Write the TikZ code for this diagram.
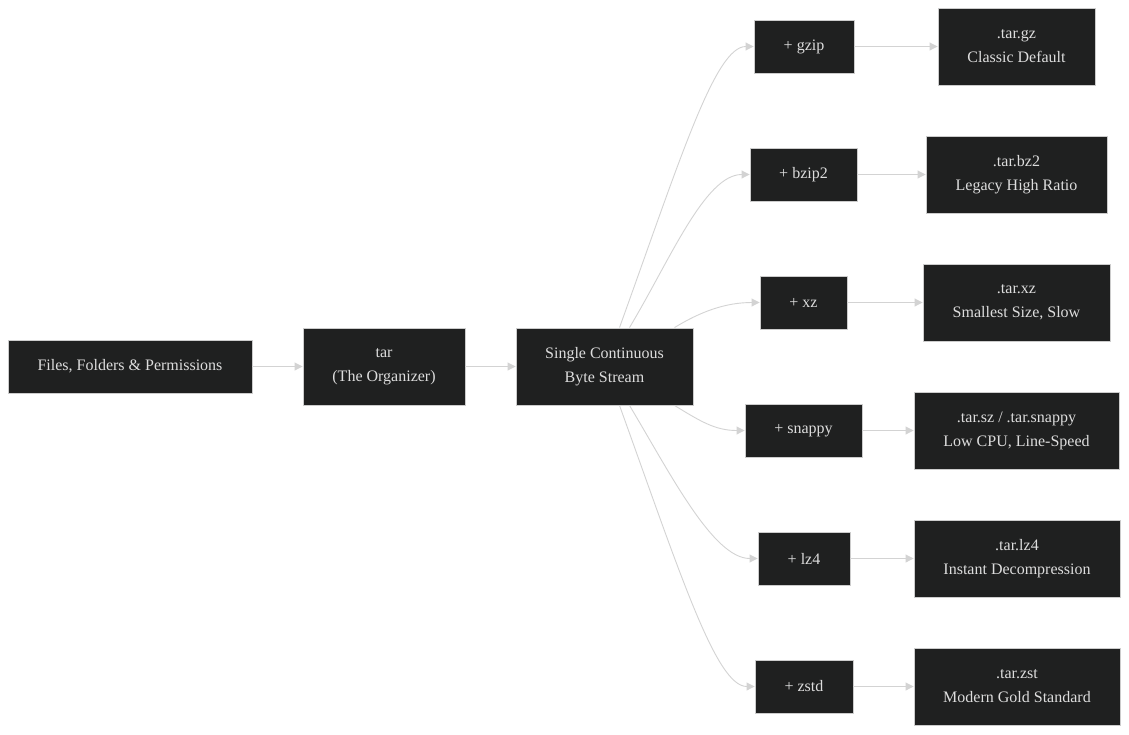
\documentclass[tikz,border=0pt]{standalone}
\usepackage{fontspec}
\setmainfont{Liberation Serif}
\usetikzlibrary{arrows.meta}
\definecolor{boxfill}{HTML}{1F2020}
\definecolor{boxline}{HTML}{CCCCCC}
\definecolor{boxtext}{HTML}{DDDDDD}
\definecolor{linkgray}{HTML}{D3D3D3}

\begin{document}
\begin{tikzpicture}[x=1pt,y=-1pt]
\tikzstyle{every node}+=[inner sep=0pt]
\tikzstyle{box}=[draw=boxline, fill=boxfill, text=boxtext, align=center, line width=0.9pt, font=\fontsize{16}{24}\selectfont]
\tikzstyle{link}=[draw=linkgray, line width=0.9pt, -{Triangle[length=8pt,width=8pt]}]
\useasboundingbox (0,0) rectangle (1129,734);
% left chain
\node [box, minimum width=244, minimum height=53] (files) at (130,366.5) {Files, Folders \& Permissions};
\node [box, minimum width=162, minimum height=77] (tar) at (384,366.5) {tar\\(The Organizer)};
\node [box, minimum width=177, minimum height=77] (stream) at (604.5,366.5) {Single Continuous\\Byte Stream};
% compressors
\node [box, minimum width=100, minimum height=53] (gzip) at (804,46.5) {+ gzip};
\node [box, minimum width=107, minimum height=53] (bzip) at (803.5,174.5) {+ bzip2};
\node [box, minimum width=87, minimum height=53] (xz) at (803.5,302.5) {+ xz};
\node [box, minimum width=117, minimum height=53] (snappy) at (803.5,430.5) {+ snappy};
\node [box, minimum width=92, minimum height=53] (lzf) at (804,558.5) {+ lz4};
\node [box, minimum width=98, minimum height=53] (zstd) at (804,686.5) {+ zstd};
% results
\node [box, minimum width=157, minimum height=77] (targz) at (1016.5,46.5) {.tar.gz\\Classic Default};
\node [box, minimum width=181, minimum height=77] (tarbz) at (1016.5,174.5) {.tar.bz2\\Legacy High Ratio};
\node [box, minimum width=187, minimum height=77] (tarxz) at (1016.5,302.5) {.tar.xz\\Smallest Size, Slow};
\node [box, minimum width=205, minimum height=77] (tarsz) at (1016.5,430.5) {.tar.sz / .tar.snappy\\Low CPU, Line-Speed};
\node [box, minimum width=206, minimum height=77] (tarlz) at (1017,558.5) {.tar.lz4\\Instant Decompression};
\node [box, minimum width=206, minimum height=77] (tarzst) at (1017,686.5) {.tar.zst\\Modern Gold Standard};
% links
\draw [link] (files) -- (tar);
\draw [link] (tar) -- (stream);
\draw [link] ([xshift=15]stream.north) .. controls (680,160) and (715,46.5) .. (gzip.west);
\draw [link] ([xshift=25]stream.north) .. controls (670,260) and (705,174.5) .. (bzip.west);
\draw [link] ([xshift=70]stream.north) .. controls (700,312) and (725,302.5) .. (xz.west);
\draw [link] ([xshift=70]stream.south) .. controls (700,421) and (715,430.5) .. (snappy.west);
\draw [link] ([xshift=25]stream.south) .. controls (670,473) and (713,558.5) .. (lzf.west);
\draw [link] ([xshift=15]stream.south) .. controls (680,573) and (716,686.5) .. (zstd.west);
\draw [link] (gzip) -- (targz);
\draw [link] (bzip) -- (tarbz);
\draw [link] (xz) -- (tarxz);
\draw [link] (snappy) -- (tarsz);
\draw [link] (lzf) -- (tarlz);
\draw [link] (zstd) -- (tarzst);
\end{tikzpicture}
\end{document}
